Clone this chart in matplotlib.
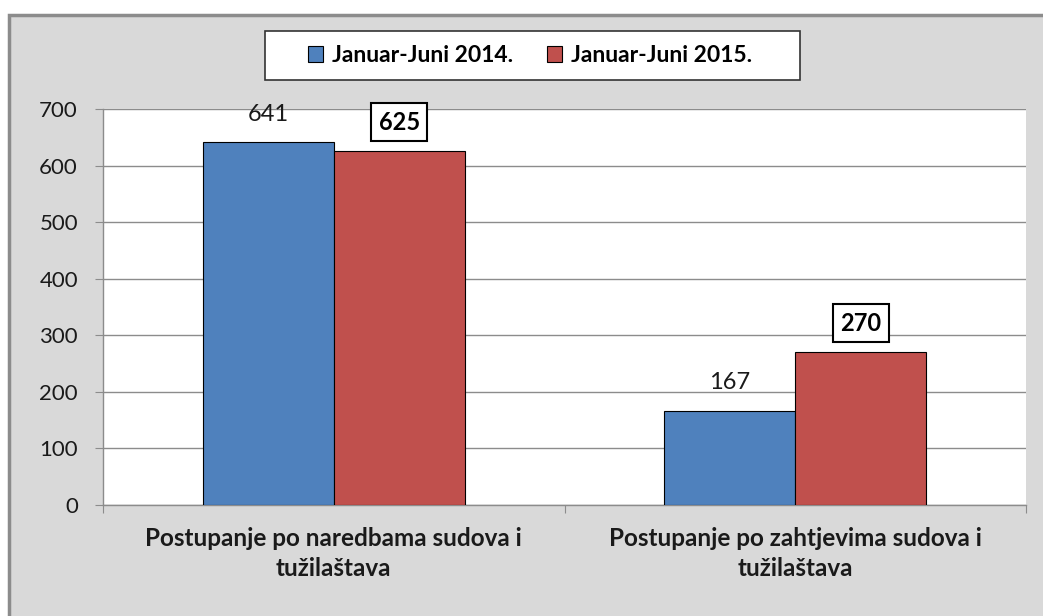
import matplotlib
matplotlib.use("Agg")
import matplotlib.pyplot as plt
from matplotlib.patches import Rectangle, Patch
import numpy as np

categories = ["Postupanje po naredbama sudova i\ntužilaštava",
              "Postupanje po zahtjevima sudova i\ntužilaštava"]
series_names = ["Januar-Juni 2014.", "Januar-Juni 2015."]
values_2014 = [641, 167]
values_2015 = [625, 270]
yticks = [0, 100, 200, 300, 400, 500, 600, 700]

FONT = ["Lato", "DejaVu Sans"]
plt.rcParams['font.family'] = FONT

W, H = 1043, 616
fig = plt.figure(figsize=(W/100, H/100), dpi=100)
fig.patch.set_facecolor("white")

# gray chart background with darker top/left border
bg = Rectangle((9/W, -0.2), 1, 1.2 - 15/H, transform=fig.transFigure,
               facecolor="#d9d9d9", edgecolor="#8c8c8c", linewidth=2.5, zorder=-10)
fig.patches.append(bg)

ax = fig.add_axes([103/W, 111/H, 923/W, 396/H])
ax.set_facecolor("white")

blue = "#4f81bd"
red = "#c0504d"
x = np.arange(len(categories))
bw = 0.284
b1 = ax.bar(x - bw/2, values_2014, bw, color=blue, edgecolor="black", linewidth=0.8, zorder=3)
b2 = ax.bar(x + bw/2, values_2015, bw, color=red, edgecolor="black", linewidth=0.8, zorder=3)

ax.set_xlim(-0.5, len(categories) - 0.5)
ax.set_ylim(0, 700)
ax.set_yticks(yticks)
ax.set_yticklabels([str(t) for t in yticks], fontsize=16, color="#1a1a1a")
ax.yaxis.grid(True, color="#8c8c8c", linewidth=1, zorder=0)
ax.set_axisbelow(True)
for s in ["top", "right"]:
    ax.spines[s].set_visible(False)
for s in ["left", "bottom"]:
    ax.spines[s].set_color("#8c8c8c")
    ax.spines[s].set_linewidth(1)
ax.tick_params(axis="y", length=6, color="#8c8c8c", pad=12)

# x ticks at category boundaries, labels at centers (each line centred)
ax.set_xticks(np.arange(-0.5, len(categories), 1.0))
ax.set_xticklabels([])
ax.tick_params(axis="x", length=6, color="#8c8c8c")
for xi, lab in zip(x, categories):
    for k, line in enumerate(lab.split("\n")):
        ax.text(xi, -0.055 - 0.076 * k, line, transform=ax.get_xaxis_transform(),
                ha="center", va="top", family="Lato",
                fontsize=17.5, fontweight="bold", color="#1a1a1a")

# data labels
for rect, v in zip(b1, values_2014):
    ax.annotate(str(v), xy=(rect.get_x() + rect.get_width()/2, v),
                xytext=(0, 20), textcoords="offset points",
                ha="center", va="center", fontsize=17, color="#1a1a1a")
for rect, v in zip(b2, values_2015):
    ax.annotate(str(v), xy=(rect.get_x() + rect.get_width()/2, v),
                xytext=(0, 21), textcoords="offset points",
                ha="center", va="center", fontsize=17, fontweight="bold",
                color="black",
                bbox=dict(boxstyle="square,pad=0.32", facecolor="white",
                          edgecolor="black", linewidth=1.5))

# legend box
lb = Rectangle((265/W, 1 - 80/H), 535/W, 49/H, transform=fig.transFigure,
               facecolor="white", edgecolor="#333333", linewidth=1.2, zorder=5)
fig.patches.append(lb)
handles = [Patch(facecolor=blue, edgecolor="black", linewidth=0.8),
           Patch(facecolor=red, edgecolor="black", linewidth=0.8)]
leg = fig.legend(handles, series_names, loc="center",
                 bbox_to_anchor=(530/W, 1 - 55.5/H), ncol=2, frameon=False,
                 prop=dict(family=FONT, weight="bold", size=16.5),
                 handlelength=0.65, handleheight=0.65, handletextpad=0.4,
                 columnspacing=1.5)
leg.set_zorder(6)

fig.savefig("out.png", dpi=100)
